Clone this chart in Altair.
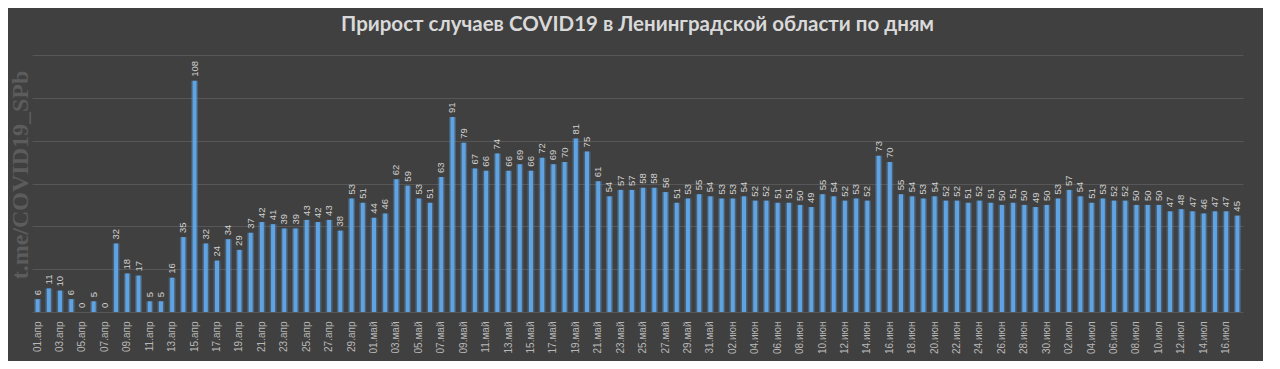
import altair as alt
import pandas as pd

month_names = ["апр", "май", "июн", "июл"]
apr_values = [6, 11, 10, 6, 0, 5, 0, 32, 18, 17, 5, 5, 16, 35, 108, 32, 24, 34, 29, 37,
              42, 41, 39, 39, 43, 42, 43, 38, 53, 51]
may_values = [44, 46, 62, 59, 53, 51, 63, 91, 79, 67, 66, 74, 66, 69, 66, 72, 69, 70, 81, 75,
              61, 54, 57, 57, 58, 58, 56, 51, 53, 55, 54]
jun_values = [53, 53, 54, 52, 52, 51, 51, 50, 49, 55, 54, 52, 53, 52, 73, 70, 55, 54, 53, 54,
              52, 52, 51, 52, 51, 50, 51, 50, 49, 50]
jul_values = [53, 57, 54, 51, 53, 52, 52, 50, 50, 50, 47, 48, 47, 46, 47, 47, 45]

title_text = "Прирост случаев COVID19 в Ленинградской области по дням"
watermark_text = "t.me/COVID19_SPb"

dates, values = [], []
for m, vals in zip(month_names, [apr_values, may_values, jun_values, jul_values]):
    for i, v in enumerate(vals):
        dates.append(f"{i + 1:02d}.{m}")
        values.append(v)
tick_labels = dates[::2]

df = pd.DataFrame({"date": dates, "value": values})

x = alt.X("date:N", sort=None,
          scale=alt.Scale(paddingInner=0, paddingOuter=0),
          axis=alt.Axis(values=tick_labels, labelAngle=-90, labelFontSize=10,
                        labelColor="#b8b8b8", labelFont="Liberation Sans",
                        labelPadding=9, ticks=False, domain=False, grid=False,
                        title=None, labelOverlap=False))
y = alt.Y("value:Q", scale=alt.Scale(domain=[0, 120]),
          axis=alt.Axis(values=[0, 20, 40, 60, 80, 100, 120], labels=False, ticks=False,
                        domain=False, grid=True, gridColor="#575757", gridWidth=1,
                        title=None))

base = alt.Chart(df)
glow = base.mark_bar(width=7, color="#5b9bd5", opacity=0.35).encode(x=x, y=y)
bars = base.mark_bar(width=4, color="#5fa3e3").encode(x=x, y=y)
labels = base.mark_text(angle=270, align="left", baseline="middle", dx=4,
                        fontSize=9.5, font="Liberation Sans", color="#d0d0d0").encode(
    x=x, y=y, text="value:Q")

wm = alt.Chart(pd.DataFrame({"t": [watermark_text]})).mark_text(
    angle=270, align="center", baseline="middle", fontSize=24,
    font="Liberation Serif", fontWeight="bold", color="#5c5c5c").encode(
    x=alt.value(-11), y=alt.value(120), text="t:N")

chart = alt.layer(glow, bars, labels, wm).properties(
    width=1211, height=257,
    title=alt.TitleParams(title_text, color="#d9d9d9", fontSize=20.5, font="Lato",
                          fontWeight="bold", anchor="middle", offset=20),
    background="#404040",
    autosize=alt.AutoSizeParams(type="none"),
    padding={"left": 24, "top": 47, "right": 20, "bottom": 49},
).configure_view(stroke=None)

chart.save("out.html", embed_options={"renderer": "svg", "actions": False})
